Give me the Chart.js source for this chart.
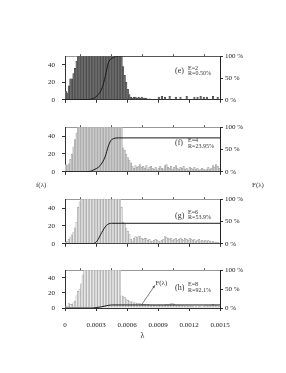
<!DOCTYPE html>
<html>
<head>
<meta charset="utf-8">
<script src="https://cdn.jsdelivr.net/npm/chart.js@4"></script>
<style>
  body { margin: 0; background: #fff; width: 286px; height: 373px; position: relative; overflow: hidden; font-family: "Liberation Serif", serif; }
  canvas { position: absolute; left: 0; }
  .lbl { position: absolute; color: #333; line-height: 1; white-space: nowrap; }
  .tag { font-size: 8px; }
  .eq { font-size: 6px; }
  .side { font-size: 7px; }
</style>
</head>
<body>
<canvas id="panel-e"></canvas>
<canvas id="panel-f"></canvas>
<canvas id="panel-g"></canvas>
<canvas id="panel-h"></canvas>

<div class="lbl tag" style="left:175px; top:66.5px">(e)</div>
<div class="lbl eq" style="left:188px; top:64.7px">E=2</div>
<div class="lbl eq" style="left:188px; top:70.3px">R=0.50%</div>

<div class="lbl tag" style="left:175px; top:139px">(f)</div>
<div class="lbl eq" style="left:188px; top:136.7px">E=4</div>
<div class="lbl eq" style="left:188px; top:143.3px">R=23.95%</div>

<div class="lbl tag" style="left:175px; top:211.5px">(g)</div>
<div class="lbl eq" style="left:188px; top:208.7px">E=6</div>
<div class="lbl eq" style="left:188px; top:214.3px">R=53.9%</div>

<div class="lbl tag" style="left:175px; top:283.7px">(h)</div>
<div class="lbl eq" style="left:188px; top:281.3px">E=8</div>
<div class="lbl eq" style="left:188px; top:287px">R=92.1%</div>

<div class="lbl side" style="left:36px; top:181.5px">f(λ)</div>
<div class="lbl side" style="left:252px; top:181.5px">F(λ)</div>

<script>
// histogram bins: 100 bins of width 0.000015 over 0 .. 0.0015
const binWidth = 0.000015;
const binCount = 100;
const xTicks = [0, 0.0003, 0.0006, 0.0009, 0.0012, 0.0015];

// f(lambda) counts per bin (values above 50 are cut off by the frame)
const countsE = [10, 8, 16, 24, 24, 30, 36, 44,
  55, 62, 70, 78, 85, 92, 98, 104, 110, 114, 118, 120, 122, 121, 119, 116, 112, 107, 101, 95, 88, 81, 74, 68, 63, 59, 56, 53, 51,
  38, 28, 20, 12, 6,
  3, 2, 3, 3, 2, 3, 2, 3, 2, 2, 2,
  0, 1, 0, 0, 0, 0, 0,
  3, 0, 4, 0, 3, 0, 0, 4, 0, 0, 0, 3, 0, 0, 3, 0, 0, 0, 4, 0,
  0, 0, 0, 3, 0, 3, 0, 4, 0, 3, 0, 3, 0, 0, 0, 4, 0, 0, 3, 0];

const countsF = [8, 7, 9, 14, 20, 28, 36, 43,
  52, 58, 66, 74, 82, 90, 97, 103, 108, 112, 115, 117, 118, 117, 115, 112, 108, 103, 97, 91, 84, 77, 70, 64, 59, 56, 54, 52, 51,
  27, 24, 20, 16, 13, 10, 6, 4, 7, 5, 6, 8, 5, 6, 4, 7, 3, 5, 6, 4,
  3, 5, 2, 4, 6, 4, 3, 7, 8, 5, 4, 6, 3, 5, 7, 4, 3, 5, 4, 6,
  3, 4, 2, 5, 4, 3, 5, 3, 4, 2, 3, 4, 3, 2, 3, 5, 3, 4, 7, 5, 8, 6, 4];

const countsG = [2, 3, 5, 7, 10, 13, 18, 24, 41, 47,
  53, 58, 64, 70, 76, 82, 88, 93, 97, 100, 102, 103, 102, 100, 97, 93, 88, 82, 76, 70, 64, 59, 55, 52, 51, 51,
  41, 24, 22, 17, 14, 11, 5, 3, 6, 8, 7, 8, 8, 6, 5, 6, 6, 4, 5, 3, 3, 4, 5, 4,
  3, 3, 4, 5, 8, 7, 6, 5, 6, 4, 5, 6, 4, 5, 6, 5, 4, 6, 5, 4,
  6, 5, 4, 5, 3, 4, 5, 3, 4, 3, 4, 3, 4, 3, 2, 3, 2, 2, 2, 1];

const countsH = [2, 3, 6, 5, 5, 7, 9, 16, 22, 25, 32, 44,
  54, 60, 68, 76, 84, 92, 99, 105, 110, 113, 115, 115, 113, 109, 104, 98, 91, 84, 77, 70, 64, 58, 54, 51,
  16, 15, 14, 11, 10, 9, 8, 8, 7, 7, 6, 6, 6, 5, 5, 5, 4, 5, 4, 4, 3, 4, 4, 3,
  4, 4, 3, 4, 4, 5, 4, 5, 6, 6, 5, 4, 3, 4, 3, 3, 3, 2, 3, 2,
  3, 2, 2, 1, 2, 1, 2, 2, 1, 2, 3, 3, 2, 3, 4, 5, 4, 3, 3, 2];

// F(lambda) cumulative curves, in percent
const cumXE = [0, 0.00017, 0.00024, 0.00031, 0.00036, 0.00039, 0.00042, 0.00047, 0.00053, 0.0015];
const cumYE = [0, 0, 1, 9, 28, 54, 85, 97, 100, 100];
const cumXF = [0, 0.00015, 0.00024, 0.000274, 0.00034, 0.000387, 0.00042, 0.00045, 0.00052, 0.0015];
const cumYF = [0, 0, 1, 4, 14, 33, 58, 72, 76, 76];
const cumXG = [0, 0.00026, 0.00028, 0.00031, 0.000355, 0.0004, 0.00045, 0.0015];
const cumYG = [0, 0, 1, 6, 25, 41, 46, 46];
const cumXH = [0, 0.00026, 0.0003, 0.00035, 0.0004, 0.00045, 0.0015];
const cumYH = [0, 0, 1, 3, 6, 8, 8];

// arrow note in panel (h): [lambda, percent]
const noteFrom = [0.00074, 8];
const noteTo = [0.00087, 60];

const tickFont = { family: "Liberation Serif", size: 7 };
const inkColor = "#222";

const binCenters = Array.from({ length: binCount }, (_, i) => (i + 0.5) * binWidth);

const arrowNote = {
    id: "arrowNote",
    afterDatasetsDraw(chart) {
        const { ctx, scales } = chart;
        const x0 = scales.x.getPixelForValue(noteFrom[0]);
        const y0 = scales.y2.getPixelForValue(noteFrom[1]);
        const x1 = scales.x.getPixelForValue(noteTo[0]);
        const y1 = scales.y2.getPixelForValue(noteTo[1]);
        const ang = Math.atan2(y1 - y0, x1 - x0);
        ctx.save();
        ctx.strokeStyle = "#444";
        ctx.fillStyle = "#444";
        ctx.lineWidth = 0.7;
        ctx.beginPath();
        ctx.moveTo(x0, y0);
        ctx.lineTo(x1, y1);
        ctx.stroke();
        ctx.beginPath();
        ctx.moveTo(x1, y1);
        ctx.lineTo(x1 - 3 * Math.cos(ang - 0.4), y1 - 3 * Math.sin(ang - 0.4));
        ctx.lineTo(x1 - 3 * Math.cos(ang + 0.4), y1 - 3 * Math.sin(ang + 0.4));
        ctx.closePath();
        ctx.fill();
        ctx.font = "7px 'Liberation Serif'";
        ctx.fillStyle = "#333";
        ctx.textAlign = "left";
        ctx.textBaseline = "alphabetic";
        ctx.fillText("F(λ)", x1 + 0.5, y1 - 0.5);
        ctx.restore();
    }
};

function makePanel(id, plotTop, plotH, bottomH, counts, cumX, cumY, barFill, barEdge, isLast) {
    const canvas = document.getElementById(id);
    canvas.width = 286;
    canvas.height = 6 + plotH + bottomH;
    canvas.style.top = (plotTop - 6) + "px";

    new Chart(canvas, {
        type: "bar",
        data: {
            datasets: [
                {
                    type: "line",
                    data: cumX.map((x, i) => ({ x, y: cumY[i] })),
                    borderColor: "#1a1a1a",
                    borderWidth: 1,
                    pointRadius: 0,
                    cubicInterpolationMode: "monotone",
                    xAxisID: "x",
                    yAxisID: "y2",
                    order: 1
                },
                {
                    type: "bar",
                    data: binCenters.map((x, i) => ({ x, y: counts[i] })),
                    backgroundColor: barFill,
                    borderColor: barEdge,
                    borderWidth: 0.5,
                    barPercentage: 1,
                    categoryPercentage: 1,
                    xAxisID: "x",
                    yAxisID: "y",
                    clip: 0,
                    order: 2
                }
            ]
        },
        options: {
            responsive: false,
            animation: false,
            layout: { padding: 0 },
            plugins: { legend: { display: false }, tooltip: { enabled: false } },
            scales: {
                x: {
                    type: "linear",
                    position: "bottom",
                    min: 0,
                    max: 0.0015,
                    offset: false,
                    afterBuildTicks: s => { s.ticks = xTicks.map(v => ({ value: v })); },
                    grid: { drawOnChartArea: false, offset: false, tickLength: 3, color: "#333" },
                    border: { color: "#333", width: 1 },
                    ticks: {
                        display: isLast,
                        padding: 10,
                        maxRotation: 0,
                        autoSkip: false,
                        font: tickFont,
                        color: inkColor,
                        callback: v => String(Number(v.toFixed(4)))
                    },
                    title: {
                        display: isLast,
                        text: "λ",
                        font: { family: "Liberation Serif", size: 8 },
                        color: inkColor,
                        padding: { top: 0, bottom: 3 }
                    },
                    afterFit: s => { s.height = bottomH; }
                },
                xt: {
                    type: "linear",
                    position: "top",
                    min: 0,
                    max: 0.0015,
                    offset: false,
                    afterBuildTicks: s => { s.ticks = xTicks.map(v => ({ value: v })); },
                    grid: { drawOnChartArea: false, tickLength: 2, color: "#555" },
                    border: { color: "#999", width: 1 },
                    ticks: { display: false },
                    afterFit: s => { s.height = 6; }
                },
                y: {
                    position: "left",
                    min: 0,
                    max: 50,
                    grid: { drawOnChartArea: false, tickLength: 3, color: "#333" },
                    border: { color: "#333", width: 1 },
                    ticks: { stepSize: 10, padding: 7, font: tickFont, color: inkColor },
                    afterFit: s => { s.width = 65; }
                },
                y2: {
                    position: "right",
                    min: 0,
                    max: 100,
                    grid: { drawOnChartArea: false, tickLength: 3, color: "#333" },
                    border: { color: "#222", width: 1 },
                    ticks: { stepSize: 50, padding: 2, font: tickFont, color: inkColor, callback: v => v + " %" },
                    afterFit: s => { s.width = 66; }
                }
            }
        },
        plugins: isLast ? [arrowNote] : []
    });
}

makePanel("panel-e", 51, 52, 8, countsE, cumXE, cumYE, "#6e6e6e", "#3c3c3c", false);
makePanel("panel-f", 122, 53, 8, countsF, cumXF, cumYF, "#cdcdcd", "#9a9a9a", false);
makePanel("panel-g", 194, 53, 8, countsG, cumXG, cumYG, "#e4e4e4", "#959595", false);
makePanel("panel-h", 265, 43, 36, countsH, cumXH, cumYH, "#ececec", "#959595", true);
</script>
</body>
</html>
